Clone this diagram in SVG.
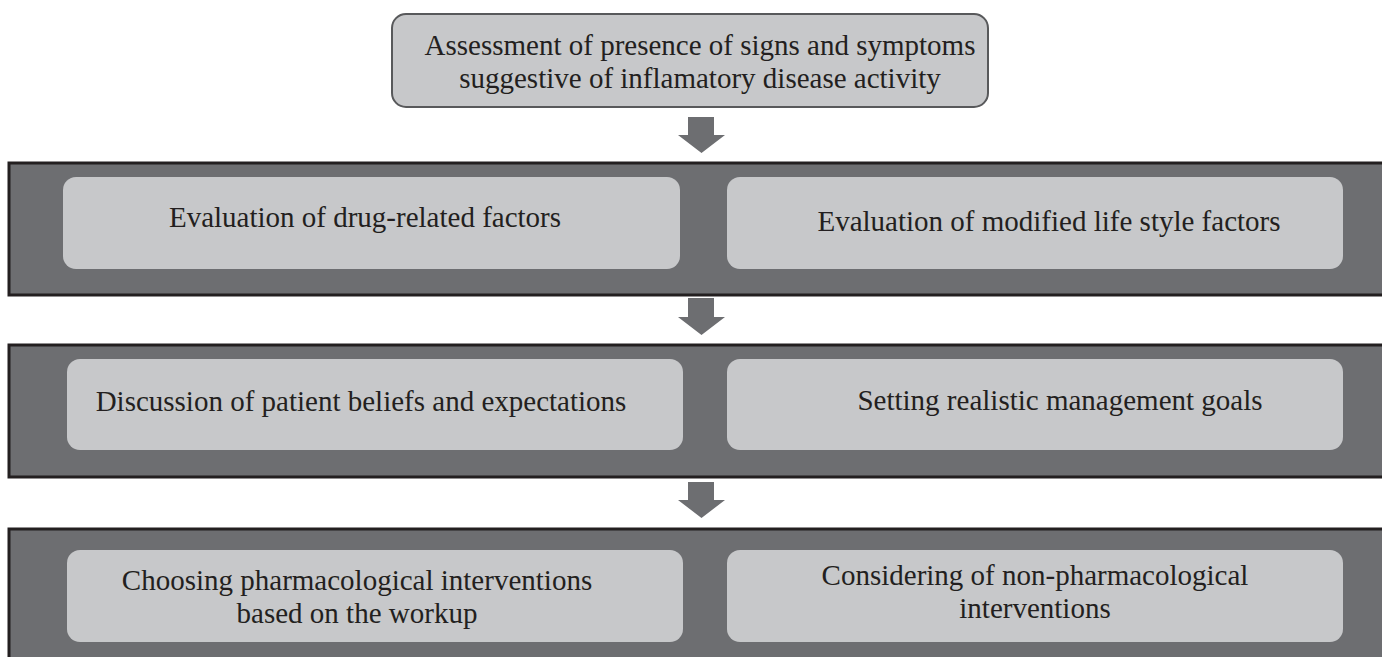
<svg xmlns="http://www.w3.org/2000/svg" width="1382" height="657" viewBox="0 0 1382 657">
<style>
.band{fill:#6d6e71;stroke:#231f20;stroke-width:3}
.inner{fill:#c7c8ca}
.top{fill:#c7c8ca;stroke:#58595b;stroke-width:2}
.arrow{fill:#6d6e71}
text{font-family:"Liberation Serif","Times New Roman",serif;font-size:29px;fill:#231f20;text-anchor:middle}
</style>
<rect width="1382" height="657" fill="#ffffff"/>
<g id="top-node">
<rect class="top" x="392" y="14" width="596" height="93" rx="14"/>
<text x="700" y="55">Assessment of presence of signs and symptoms</text>
<text x="700" y="88">suggestive of inflamatory disease activity</text>
</g>
<g id="band1">
<rect class="band" x="9" y="163" width="1380" height="132"/>
<g id="drug-factors"><rect class="inner" x="63" y="177" width="617" height="92" rx="13"/><text x="365" y="227">Evaluation of drug-related factors</text></g>
<g id="lifestyle-factors"><rect class="inner" x="727" y="177" width="616" height="92" rx="13"/><text x="1049" y="231">Evaluation of modified life style factors</text></g>
</g>
<g id="band2">
<rect class="band" x="9" y="345" width="1380" height="132"/>
<g id="beliefs"><rect class="inner" x="67" y="359" width="616" height="91" rx="13"/><text x="361" y="411">Discussion of patient beliefs and expectations</text></g>
<g id="goals"><rect class="inner" x="727" y="359" width="616" height="91" rx="13"/><text x="1060" y="410">Setting realistic management goals</text></g>
</g>
<g id="band3">
<rect class="band" x="9" y="529" width="1380" height="140"/>
<g id="pharma"><rect class="inner" x="67" y="550" width="616" height="92" rx="13"/><text x="357" y="590">Choosing pharmacological interventions</text><text x="357" y="623">based on the workup</text></g>
<g id="nonpharma"><rect class="inner" x="727" y="550" width="616" height="92" rx="13"/><text x="1035" y="585">Considering of non-pharmacological</text><text x="1035" y="618">interventions</text></g>
</g>
<g id="connectors">
<polygon class="arrow" points="688,117 714,117 714,135 725,135 701.5,153 678,135 688,135"/>
<polygon class="arrow" points="688,298 714,298 714,317 725,317 701.5,335 678,317 688,317"/>
<polygon class="arrow" points="688,482 714,482 714,500 725,500 701.5,518 678,500 688,500"/>
</g>
</svg>
